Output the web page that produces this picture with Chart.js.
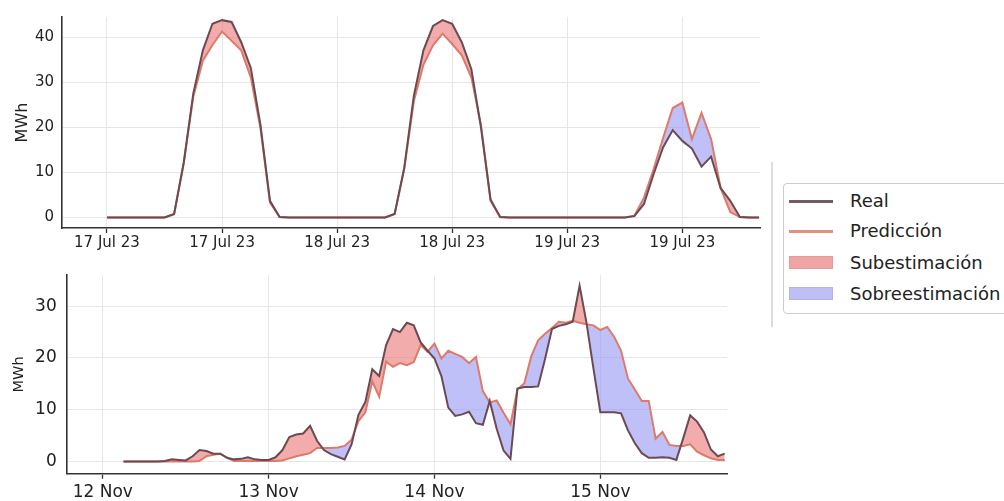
<!DOCTYPE html>
<html>
<head>
<meta charset="utf-8">
<script src="https://cdn.jsdelivr.net/npm/chart.js@4.4.0/dist/chart.umd.min.js"></script>
<style>
html,body{margin:0;padding:0;background:#fff;width:1004px;height:501px;overflow:hidden;font-family:"DejaVu Sans",sans-serif;}
#c1{position:absolute;left:0;top:0;}
#c2{position:absolute;left:0;top:255px;}
#vline{position:absolute;left:771px;top:162px;width:1.5px;height:165px;background:#dcdcdc;}
#legend{position:absolute;left:783px;top:183px;width:240px;height:129px;border:1px solid #cccccc;border-radius:4px;background:#fff;}
.row{position:absolute;left:0;height:24px;display:flex;align-items:center;}
.sw{position:absolute;left:5px;width:44px;}
.txt{position:absolute;left:66px;font-size:18px;color:#222;white-space:nowrap;line-height:24px;top:0;}
</style>
</head>
<body>
<canvas id="c1" width="770" height="255"></canvas>
<canvas id="c2" width="740" height="246"></canvas>
<div id="vline"></div>
<div id="legend"></div>
<script>
// ---------- Top chart data (hourly, starting 17 Jul 23 00:00) ----------
const topStartHour = 0;
const topReal = [0,0,0,0,0,0,0,0.8,12.1,27.5,37.1,43.0,43.8,43.4,38.9,33.2,20.6,3.7,0.1,
  0,0,0,0,0,0,0,0,0,0,0,0.8,11.0,27.0,37.1,42.5,43.8,43.0,38.9,32.9,20.0,4.0,0.1,
  0,0,0,0,0,0,0,0,0,0,0,0,0,0.3,3.0,9.6,15.6,19.4,17.0,15.3,11.3,13.5,6.5,3.7,0.1,0,0];
const topPred = [0,0,0,0,0,0,0,0.7,12.0,26.8,34.8,38.3,41.3,39.2,37.1,31.1,19.9,3.3,0.1,
  0,0,0,0,0,0,0,0,0,0,0,0.8,10.8,25.8,33.9,38.2,40.8,38.5,36.0,31.1,20.6,3.7,0.1,
  0,0,0,0,0,0,0,0,0,0,0,0,0,0.4,4.4,10.7,17.7,24.3,25.5,17.4,23.2,17.4,6.5,1.2,0.1,0,0];
const topTickHours = [0,12,24,36,48,60];
const topTickLabels = ['17 Jul 23','17 Jul 23','18 Jul 23','18 Jul 23','19 Jul 23','19 Jul 23'];
const topYTicks = [0,10,20,30,40];

// ---------- Bottom chart data (hourly, starting 12 Nov 03:00) ----------
const botStartHour = 3;
const botReal = [0,0,0,0,0,0,0.1,0.4,0.3,0.2,1.0,2.2,2.0,1.5,1.5,0.7,0.4,0.5,0.8,0.4,0.3,0.3,
  0.8,2.2,4.7,5.2,5.4,6.9,4.0,2.2,1.4,0.9,0.4,3.3,9.0,11.5,17.8,16.5,22.5,25.6,25.0,26.8,26.3,
  23.0,21.4,19.9,16.5,10.4,8.8,9.1,9.6,7.4,7.1,11.7,6.3,2.1,0.5,14.1,14.4,14.4,14.5,19.8,25.6,
  26.2,26.5,27.0,34.0,26.8,18.0,9.5,9.5,9.5,9.3,6.0,3.5,1.6,0.7,0.7,0.8,0.7,0.3,4.5,8.9,7.7,5.6,2.3,1.0,1.5];
const botPred = [0,0,0,0,0,0,0,0,0,0,0,0.1,1.0,1.3,1.5,0.7,0.1,0.1,0.1,0.1,0.1,0.1,
  0.1,0.2,0.6,1.0,1.3,1.6,2.6,2.6,2.6,2.7,3.0,4.2,7.8,9.5,15.5,12.5,19.3,18.3,19.0,18.6,19.2,
  22.5,21.2,22.8,19.9,21.4,20.8,20.2,19.0,20.2,13.6,11.4,11.8,9.4,7.2,13.9,15.1,20.3,23.4,24.7,25.8,
  27.0,26.8,27.2,26.8,26.5,26.3,25.4,26.0,24.1,21.4,16.0,13.9,11.7,11.7,4.4,5.7,3.2,3.0,3.0,3.3,1.9,1.2,0.6,0.3,0.3];
const botTickHours = [0,24,48,72];
const botTickLabels = ['12 Nov','13 Nov','14 Nov','15 Nov'];
const botYTicks = [0,10,20,30];

const seriesLabels = ['Real','Predicción'];
const fillLabels = ['Subestimación','Sobreestimación'];
const yTitle = 'MWh';

// ---------- styles ----------
const REAL_COLOR = '#6b4a52';
const PRED_COLOR = '#dd7a6a';
const UNDER_COLOR = 'rgba(236,128,128,0.65)';
const OVER_COLOR = 'rgba(150,150,245,0.6)';
const GRID = '#e6e6e6';
const AXIS = '#333333';
const TXT = '#222222';
const FONT = 'DejaVu Sans';

function toXY(arr, start) {
  return arr.map((v, i) => ({x: start + i, y: v}));
}

function makeChart(id, cfg) {
  const ctx = document.getElementById(id);
  return new Chart(ctx, {
    type: 'line',
    data: {
      datasets: [
        {label: seriesLabels[0], data: toXY(cfg.real, cfg.start), borderColor: REAL_COLOR, borderWidth: 2,
         pointRadius: 0, fill: false, tension: 0},
        {label: seriesLabels[1], data: toXY(cfg.pred, cfg.start), borderColor: PRED_COLOR, borderWidth: 2,
         pointRadius: 0, tension: 0, fill: {target: 0, above: OVER_COLOR, below: UNDER_COLOR}}
      ]
    },
    options: {
      responsive: false,
      animation: false,
      events: [],
      layout: {padding: {left: 0, top: cfg.padTop, right: cfg.padRight, bottom: 0}},
      plugins: {legend: {display: false}, tooltip: {enabled: false}},
      scales: {
        x: {
          type: 'linear', min: cfg.xmin, max: cfg.xmax,
          afterBuildTicks: s => { s.ticks = cfg.tickHours.map(v => ({value: v})); },
          afterFit: s => { s.height = cfg.xHeight; },
          ticks: {
            autoSkip: false, maxRotation: 0, color: TXT, padding: cfg.xPad,
            font: {family: FONT, size: cfg.xFont},
            callback: (v) => cfg.tickLabels[cfg.tickHours.indexOf(v)]
          },
          grid: {color: GRID, lineWidth: 1, drawTicks: true, tickLength: 5, tickColor: AXIS, tickWidth: 1.3},
          border: {color: AXIS, width: 1.6}
        },
        y: {
          min: cfg.ymin, max: cfg.ymax,
          afterBuildTicks: s => { s.ticks = cfg.yTicks.map(v => ({value: v})); },
          afterFit: s => { s.width = cfg.yWidth; },
          ticks: {color: TXT, padding: cfg.yPad, font: {family: FONT, size: cfg.yFont}},
          grid: {color: GRID, lineWidth: 1, drawTicks: false},
          border: {color: AXIS, width: 1.6},
          title: {display: true, text: yTitle, color: TXT, font: {family: FONT, size: cfg.titleFont},
                  padding: {top: cfg.titlePad, bottom: 0}}
        }
      }
    }
  });
}

makeChart('c1', {
  real: topReal, pred: topPred, start: topStartHour,
  xmin: -4.69, xmax: 68.1, ymin: -2.33, ymax: 44.5,
  tickHours: topTickHours, tickLabels: topTickLabels, yTicks: topYTicks,
  padTop: 7, padRight: 10, xHeight: 27, yWidth: 62,
  xFont: 15, yFont: 15, xPad: 1, yPad: 8, titleFont: 16, titlePad: 13.5
});

makeChart('c2', {
  real: botReal, pred: botPred, start: botStartHour,
  xmin: -5.22, xmax: 90.33, ymin: -2.37, ymax: 36.0,
  tickHours: botTickHours, tickLabels: botTickLabels, yTicks: botYTicks,
  padTop: 8, padRight: 13, xHeight: 27.3, yWidth: 66.7,
  xFont: 17, yFont: 17, xPad: 4, yPad: 10, titleFont: 14.5, titlePad: 11
});

// ---------- legend (HTML) ----------
const legend = document.getElementById('legend');
const legendItems = [
  {text: seriesLabels[0], kind: 'line', color: '#7a5a60', center: 17},
  {text: seriesLabels[1], kind: 'line', color: '#e0907e', center: 47},
  {text: fillLabels[0], kind: 'patch', color: '#f0a4a4', border: '#e89a9a', center: 79},
  {text: fillLabels[1], kind: 'patch', color: '#bfbff5', border: '#b2b2ee', center: 110}
];
legendItems.forEach(it => {
  const row = document.createElement('div');
  row.className = 'row';
  row.style.top = (it.center - 12) + 'px';
  row.style.width = '240px';
  const sw = document.createElement('div');
  sw.className = 'sw';
  if (it.kind === 'line') {
    sw.style.height = '2.5px';
    sw.style.top = '11px';
    sw.style.background = it.color;
  } else {
    sw.style.height = '13px';
    sw.style.top = '5px';
    sw.style.background = it.color;
    sw.style.boxSizing = 'border-box';
    sw.style.border = '1px solid ' + it.border;
  }
  const t = document.createElement('div');
  t.className = 'txt';
  t.textContent = it.text;
  row.appendChild(sw);
  row.appendChild(t);
  legend.appendChild(row);
});
</script>
</body>
</html>
